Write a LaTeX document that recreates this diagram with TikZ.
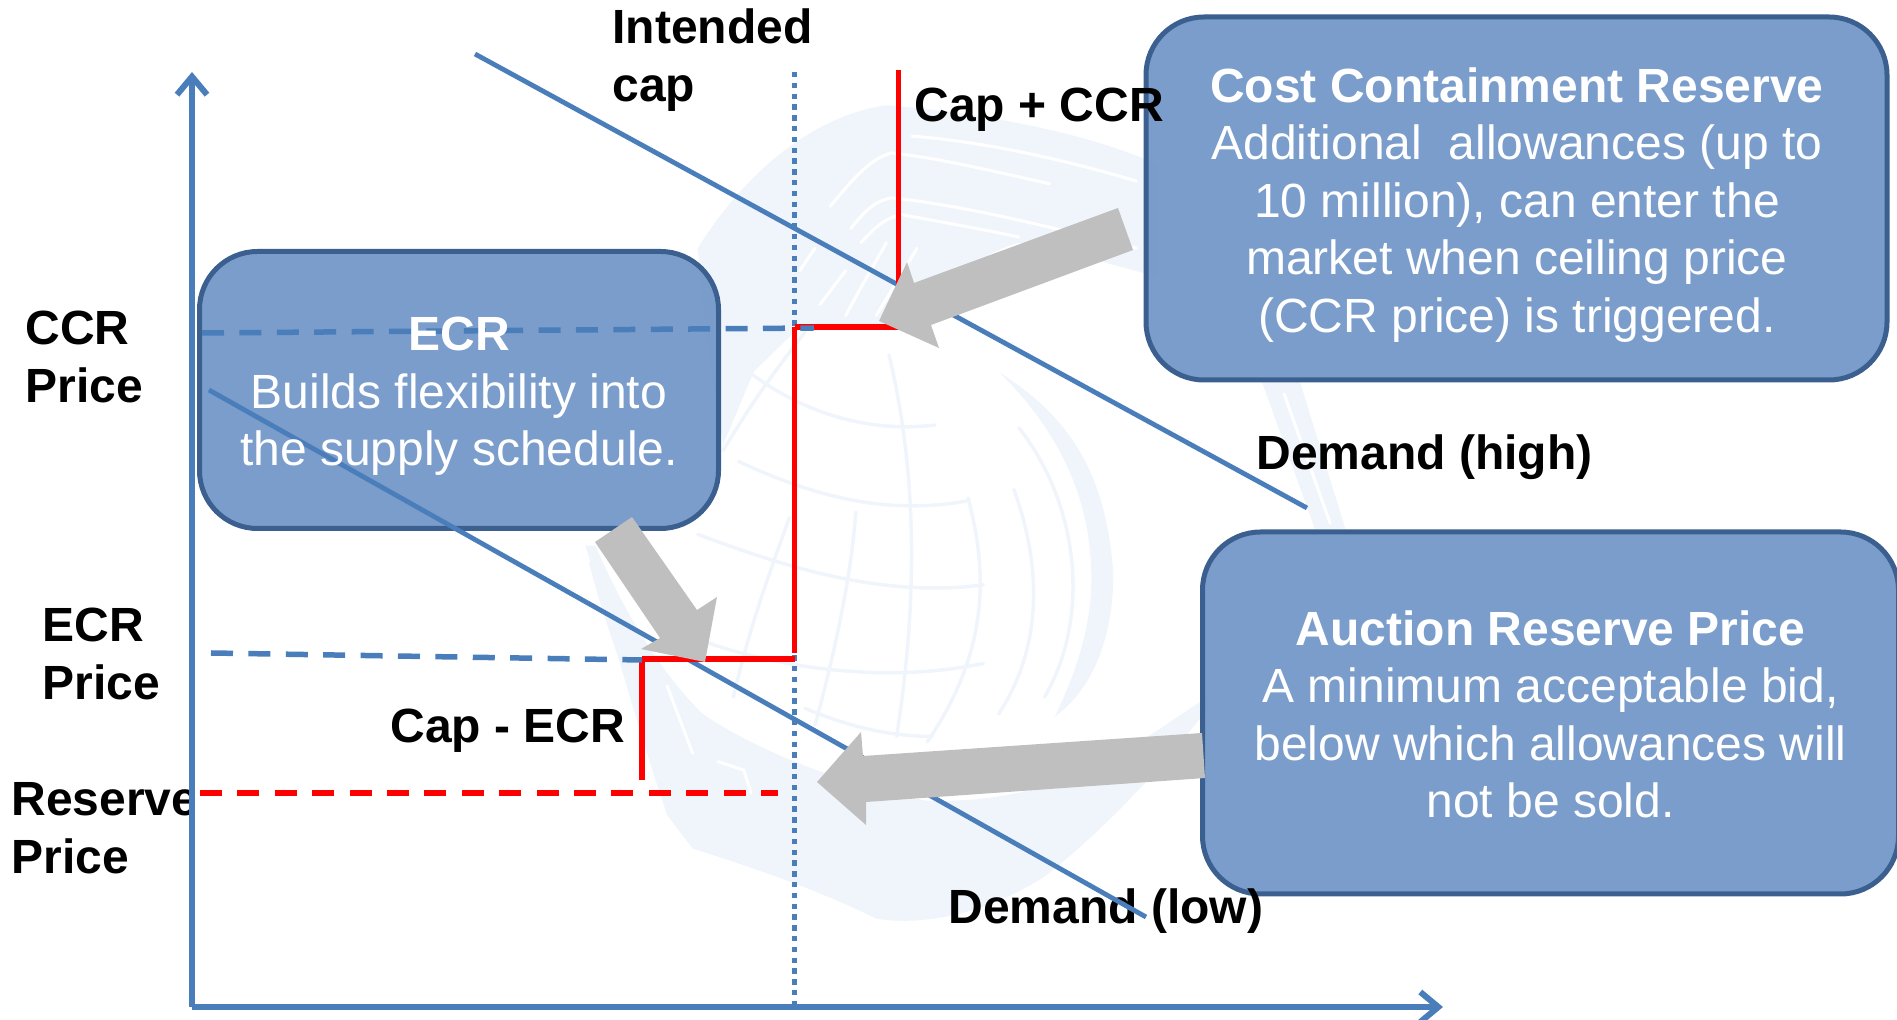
\documentclass[tikz,border=0pt]{standalone}
\usepackage{fontspec}
\setmainfont{Liberation Sans}
\usetikzlibrary{arrows.meta}
\definecolor{axisblue}{HTML}{4A7EBB}
\definecolor{boxfill}{HTML}{769AC9}
\definecolor{boxline}{HTML}{3B6090}
\definecolor{greyarrow}{HTML}{BFBFBF}
\definecolor{wmark}{HTML}{F0F5FC}
\tikzset{
  axisline/.style={draw=axisblue,line width=3pt,-{Straight Barb[length=9pt,width=15pt,line width=3pt]}},
  demandline/.style={draw=axisblue,line width=2.4pt},
  dotline/.style={draw=axisblue,line width=2.5pt,dash pattern=on 2.7pt off 2.7pt},
  bluedash/.style={draw=axisblue,line width=2.75pt,dash pattern=on 11pt off 7.7pt},
  reddash/.style={draw=red,line width=2.6pt,dash pattern=on 11pt off 7.7pt},
  redline/.style={draw=red,line width=2.75pt},
  calloutbox/.style={draw=boxline,line width=2.5pt,fill=boxfill,fill opacity=.97,rounded corners=29pt,outer sep=0pt,inner sep=0pt,anchor=north west},
  calltext/.style={text=white,align=center,anchor=base,inner sep=0pt,font=\fontsize{24}{28.75}\selectfont},
  axislabel/.style={text=black,align=left,anchor=base west,inner sep=0pt,font=\fontsize{24}{28.75}\selectfont\bfseries},
  blockarrow/.style={fill=greyarrow},
  wmarkband/.style={fill=wmark},
  wmarkgrid/.style={draw=wmark,line width=1.75pt,line cap=round},
  wmarkstreak/.style={draw=white,line width=1.5pt,line cap=round}
}
\begin{document}
\begin{tikzpicture}[x=0.5pt,y=-0.5pt]
\useasboundingbox (0,0) rectangle (1897,1020);
\clip (0,0) rectangle (1897,1020);

% faint globe watermark (coordinates are those of a crop of the reference)
\begin{scope}[shift={(560,80)},xscale=0.51,yscale=0.561]
  \fill[wmarkband] (270,300) .. controls (380,140) and (520,60) .. (640,45)
     .. controls (850,60) and (1050,100) .. (1170,150) -- (1170,350)
     .. controls (1080,330) and (980,300) .. (900,290)
     .. controls (820,310) and (720,380) .. (640,440)
     -- (470,440) -- (380,520) -- (320,650) -- (290,480) -- cycle;
  \fill[wmarkband] (50,830) .. controls (90,950) and (150,1150) .. (210,1310)
     -- (260,1370) .. controls (400,1410) and (520,1450) .. (620,1495)
     .. controls (720,1510) and (850,1480) .. (950,1420)
     .. controls (1050,1350) and (1180,1230) .. (1270,1120) -- (1270,1100)
     .. controls (1130,1180) and (1000,1290) .. (720,1285)
     .. controls (520,1250) and (360,1180) .. (280,1130)
     .. controls (200,1060) and (120,940) .. (70,830) -- cycle;
  \fill[wmarkband] (860,520) .. controls (980,590) and (1070,680) .. (1085,880)
     .. controls (1085,1000) and (1040,1090) .. (970,1135)
     .. controls (1020,1040) and (1050,950) .. (1040,850)
     .. controls (1030,710) and (950,600) .. (860,520) -- cycle;
  \fill[wmarkband] (1375,535) -- (1450,535) -- (1540,800) -- (1480,800) -- cycle;
  \draw[wmarkstreak] (530,225) .. controls (580,170) and (610,140) .. (650,130) .. controls (750,140) and (860,165) .. (960,185);
  \draw[wmarkstreak] (570,265) .. controls (600,230) and (620,215) .. (650,210) .. controls (800,225) and (950,260) .. (1130,300);
  \draw[wmarkstreak] (590,290) .. controls (620,260) and (640,245) .. (670,240) .. controls (760,255) and (850,270) .. (900,280);
  \draw[wmarkstreak] (690,100) .. controls (830,110) and (980,140) .. (1130,180);
  \draw[wmarkstreak] (500,300) -- (470,340);
  \draw[wmarkstreak] (560,340) -- (510,400);
  \draw[wmarkstreak] (640,290) -- (590,370) -- (560,420);
  \draw[wmarkstreak] (700,300) -- (620,420);
  \draw[wmarkstreak] (1000,1390) -- (1150,1260);
  \draw[wmarkstreak] (1420,560) -- (1510,790);
  \draw[wmarkstreak] (310,1215) -- (360,1230) -- (375,1270);
  \draw[wmarkstreak] (210,1080) -- (260,1200);
  \draw[wmarkgrid] (270,810) .. controls (420,860) and (620,925) .. (830,900);
  \draw[wmarkgrid] (350,680) .. controls (470,730) and (620,780) .. (800,750);
  \draw[wmarkgrid] (370,520) .. controls (470,590) and (600,630) .. (735,615);
  \draw[wmarkgrid] (280,1000) .. controls (400,1040) and (620,1080) .. (830,1040);
  \draw[wmarkgrid] (480,1120) .. controls (560,1150) and (640,1170) .. (730,1170);
  \draw[wmarkgrid] (645,490) .. controls (690,660) and (710,880) .. (660,1170);
  \draw[wmarkgrid] (800,745) .. controls (840,880) and (840,1020) .. (720,1180);
  \draw[wmarkgrid] (890,730) .. controls (950,880) and (940,1020) .. (860,1130);
  \draw[wmarkgrid] (900,620) .. controls (1020,760) and (1040,960) .. (950,1100);
  \draw[wmarkgrid] (580,770) .. controls (570,900) and (530,1050) .. (500,1150);
  \draw[wmarkgrid] (450,780) .. controls (410,880) and (370,980) .. (340,1100);
  \draw[wmarkgrid] (320,660) .. controls (380,570) and (420,520) .. (480,450);
  \draw[wmarkgrid] (60,860) .. controls (100,1000) and (150,1100) .. (200,1250);
\end{scope}

% text labels
\node[axislabel] (lblIntended) at (612,101.5) {Intended\\cap};
\node[axislabel] (lblDemHigh) at (1256,469.5) {Demand (high)};
\node[axislabel] (lblCCR) at (25,402.5) {CCR\\Price};
\node[axislabel] (lblECR) at (42,699.5) {ECR\\Price};
\begin{scope}
  \clip (0,720) rectangle (190,900);
  \node[axislabel] (lblRes) at (11,873.5) {Reserve\\Price};
\end{scope}
\node[axislabel] (lblCapECR) at (390,743) {Cap - ECR};

% callout boxes
\node[calloutbox,minimum width=259.5pt,minimum height=138.5pt] (boxECR) at (199.5,251.5) {};
\node[calloutbox,minimum width=370.5pt,minimum height=181.5pt] (boxCCR) at (1146,17) {};
\node[calloutbox,minimum width=348pt,minimum height=181pt] (boxARP) at (1202.5,532) {};

\node[axislabel] (lblCapCCR) at (914,121.5) {Cap + CCR};
\node[axislabel] (lblDemLow) at (948,924) {Demand (low)};

% coordinates of the chart
\coordinate (origin) at (192,1007);
\coordinate (yTop) at (192,72);
\coordinate (xEnd) at (1443,1007);
\coordinate (dhA) at (475,54);
\coordinate (dhB) at (1307,508);
\coordinate (dlA) at (209,390);
\coordinate (dlB) at (1146,917);
\coordinate (capTop) at (794.5,72);
\coordinate (capBot) at (794.5,1005);
\coordinate (ccrTop) at (898.5,70);
\coordinate (ccrCorner) at (898.5,327);
\coordinate (capHigh) at (794.5,327);
\coordinate (capLow) at (794.5,653);
\coordinate (ecrRight) at (794.5,659);
\coordinate (ecrCorner) at (642,659);
\coordinate (ecrBot) at (642,780);
\coordinate (ccrDashA) at (202,333);
\coordinate (ccrDashB) at (814,328);
\coordinate (ecrDashA) at (211,653);
\coordinate (ecrDashB) at (642,660);
\coordinate (resA) at (200,793);
\coordinate (resB) at (778,793);

\draw[dotline] (capTop) -- (capBot);
\draw[demandline] (dhA) -- (dhB);
\draw[demandline] (dlA) -- (dlB);
\draw[axisline] (origin) -- (yTop);
\draw[axisline] (origin) -- (xEnd);
\draw[redline] (ccrTop) -- (ccrCorner);
\draw[redline] (capHigh) -- (ccrCorner);
\draw[redline] (capHigh) -- (capLow);
\draw[redline] (ecrRight) -- (ecrCorner);
\draw[redline] (ecrCorner) -- (ecrBot);
\draw[bluedash] (ccrDashA) -- (ccrDashB);
\draw[bluedash] (ecrDashA) -- (ecrDashB);
\draw[reddash] (resA) -- (resB);

% callout texts
\node[calltext] (txtECR) at (459,465.6) {\textbf{ECR}\\Builds flexibility into\\the supply schedule.};
\node[calltext] (txtCCR) at (1517,332.5) {\textbf{Cost Containment Reserve}\\Additional\ \ allowances (up to\\10 million), can enter the\\market when ceiling price\\(CCR price) is triggered.};
\node[calltext] (txtARP) at (1550.5,818) {\textbf{Auction Reserve Price}\\A minimum acceptable bid,\\below which allowances will\\not be sold.};

% block arrows
\fill[blockarrow] (1118,208) -- (1133,250) -- (931,325) -- (939,348) -- (879,321) -- (907,262) -- (914,283) -- cycle;
\fill[blockarrow] (632,517) -- (595,542) -- (660,638) -- (641,649) -- (705,662) -- (717,597) -- (697,610) -- cycle;
\fill[blockarrow] (1202,733) -- (1205,778) -- (866,802) -- (866,825) -- (817,782) -- (861,732) -- (863,756) -- cycle;
\end{tikzpicture}
\end{document}
